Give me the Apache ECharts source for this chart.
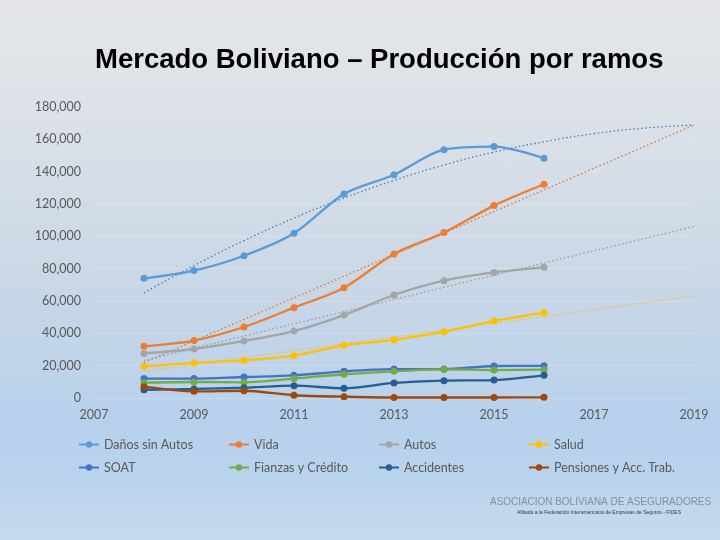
<!DOCTYPE html>
<html><head><meta charset="utf-8">
<script src="https://cdn.jsdelivr.net/npm/echarts@6/dist/echarts.min.js"></script>
<style>
html,body{margin:0;padding:0;}
body{width:720px;height:540px;background:linear-gradient(180deg,#e3e5e8 0%,#dfe3e8 15%,#cbd8e6 50%,#b7d1ec 78%,#b9d3ed 88%,#c6daee 100%);}
#c{width:720px;height:540px;}
</style></head>
<body><div id="c"></div>
<script>
const years = [2008,2009,2010,2011,2012,2013,2014,2015,2016];
const seriesNames = ['Daños sin Autos','Vida','Autos','Salud','SOAT','Fianzas y Crédito','Accidentes','Pensiones y Acc. Trab.'];
const danosSinAutos = [74000,78800,88000,101900,126200,138100,153600,155500,148300];
const vida = [32000,35500,43900,55900,68200,89100,102300,119000,132200];
const autos = [27600,30300,35300,41400,51300,63700,72600,77700,80800];
const salud = [19600,21700,23300,26200,32600,35900,41000,47600,52800];
const soat = [12000,12000,13000,14000,16500,17900,17900,19800,19900];
const fianzas = [9500,9900,9700,12000,14700,16500,17700,17300,17500];
const accidentes = [5100,5600,6400,7600,6000,9300,10700,11100,14000];
const pensiones = [7000,4100,4500,1700,800,300,300,300,400];
// trend lines
const trendYears = [2008,2009,2010,2011,2012,2013,2014,2015,2016,2017,2018,2019];
const danosTrend = [65000,81900,97300,111300,123700,134600,144100,152100,158500,163500,166900,168900];
const linTrendYears = [2008,2019];
const vidaTrend = [21900,168800];
const autosTrend = [23300,106100];
const saludTrend = [16500,63200];
const xTicks = [2007,2009,2011,2013,2015,2017,2019];
const yTicks = [0,20000,40000,60000,80000,100000,120000,140000,160000,180000];

const colors = ['#5b9bd5','#ed7d31','#a5a5a5','#ffc000','#4472c4','#70ad47','#255e91','#9e480e'];
const values = [danosSinAutos,vida,autos,salud,soat,fianzas,accidentes,pensiones];
const pair = (xs, ys) => xs.map((x,i)=>[x,ys[i]]);

const series = [];
seriesNames.forEach((n,i)=>{
  series.push({name:n,type:'line',data:pair(years,values[i]),smooth:0.3,
    symbol:'circle',symbolSize:7,color:colors[i],
    lineStyle:{width:2.3,color:colors[i]},itemStyle:{color:colors[i]},z:3});
});
const trends = [
  {d:pair(trendYears,danosTrend),c:'#4a7fb5',smooth:true},
  {d:pair(linTrendYears,vidaTrend),c:'#d9763a',smooth:false},
  {d:pair(linTrendYears,autosTrend),c:'#999999',smooth:false},
  {d:pair(linTrendYears,saludTrend),c:'#f0c020',smooth:false}
];
trends.forEach(t=>{
  series.push({type:'line',data:t.d,smooth:t.smooth,symbol:'none',silent:true,
    lineStyle:{width:1.3,type:[1.5,2.5],color:t.c},z:2});
});

const legends = seriesNames.map((n,i)=>({
  data:[n], left: 73 + (i%4)*150, top: i<4 ? 433 : 456,
  itemWidth:20,itemHeight:8,itemGap:4,
  textStyle:{color:'#595959',fontFamily:'Lato',fontSize:12.5}
}));

const chart = echarts.init(document.getElementById('c'));
chart.setOption({
  backgroundColor:'transparent',
  animation:false,
  title:{text:'Mercado Boliviano – Producción por ramos',left:90,top:41,
    textStyle:{fontFamily:'Liberation Sans',fontWeight:'bold',fontSize:27.5,color:'#000'}},
  legend:legends,
  grid:{left:94,right:26,top:107,bottom:142},
  xAxis:{type:'value',min:2007,max:2019,interval:2,
    axisLine:{show:false},axisTick:{show:false},splitLine:{show:false},
    axisLabel:{color:'#595959',fontFamily:'Lato',fontSize:12.5,margin:10,
      formatter:v=>xTicks.includes(v)?String(v):''}},
  yAxis:{type:'value',min:0,max:180000,interval:20000,
    axisLine:{show:false},axisTick:{show:false},
    splitLine:{lineStyle:{color:'rgba(255,255,255,0.2)',width:1}},
    axisLabel:{color:'#595959',fontFamily:'Lato',fontSize:12.5,margin:13,
      formatter:v=>yTicks.includes(v)?v.toLocaleString('en-US'):''}},
  graphic:[
    {type:'text',x:490,y:496,scaleX:0.865,style:{text:'ASOCIACION BOLIVIANA DE ASEGURADORES',fill:'#8c8f94',
      font:'11.5px "Liberation Sans"'}},
    {type:'text',x:517,y:510,style:{text:'Afiliada a la Federación Interamericana de Empresas de Seguros - FIDES',fill:'#3a3a3a',
      font:'5px "Liberation Sans"'}}
  ],
  series:series
});
</script></body></html>
